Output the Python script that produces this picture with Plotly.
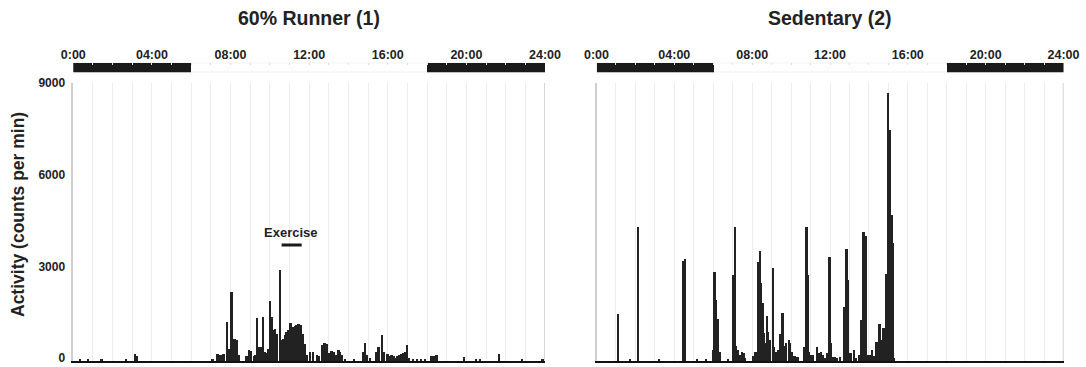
import plotly.graph_objects as go

# ---------------- data ----------------
tick_hours = [0, 4, 8, 12, 16, 20, 24]
tick_labels = ["0:00", "04:00", "08:00", "12:00", "16:00", "20:00", "24:00"]
y_ticks = [0, 3000, 6000, 9000]
night_start = [0, 18]
night_end = [6, 24]
exercise_start = 10.6
exercise_end = 11.62
exercise_level = 3800

runner_hours = [0.34, 0.75, 1.45, 2.7, 3.15, 3.25, 7.1, 7.35, 7.5, 7.65, 7.84, 7.92, 8.06, 8.13,
                8.22, 8.32, 8.43, 8.82, 8.94, 9.04, 9.2, 9.27, 9.36, 9.45, 9.55, 9.67, 9.76, 9.86,
                9.93, 10.01, 10.1, 10.19, 10.29, 10.37, 10.52, 10.6, 10.67, 10.77, 10.87, 10.97,
                11.07, 11.18, 11.28, 11.38, 11.48, 11.58, 11.69, 11.79, 11.89, 12.05, 12.2, 12.4,
                12.5, 12.7, 12.8, 12.9, 13.05, 13.15, 13.25, 13.35, 13.5, 13.6, 13.7, 13.83,
                14.3, 14.75, 14.85, 14.95, 15.1, 15.45, 15.55, 15.73, 15.8, 16.0, 16.1, 16.2,
                16.3, 16.4, 16.5, 16.6, 16.7, 16.8, 16.9, 17.0, 17.1, 17.3, 17.5, 17.7, 17.9,
                18.2, 18.3, 18.4, 18.5, 19.88, 20.5, 20.7, 21.68, 22.85, 23.89]
runner_counts = [60, 60, 40, 40, 220, 150, 60, 220, 200, 220, 1290, 400, 2250, 300,
                 720, 680, 200, 150, 350, 330, 150, 200, 1400, 450, 450, 1430, 300, 250,
                 400, 1950, 1450, 1000, 1050, 900, 2970, 700, 720, 850, 950, 1020,
                 1230, 1100, 1150, 1180, 1200, 1180, 900, 550, 200, 280, 300, 200,
                 180, 520, 580, 560, 250, 320, 300, 200, 360, 300, 200, 60,
                 40, 300, 580, 200, 100, 300, 470, 850, 300, 220, 180, 200,
                 150, 100, 150, 200, 230, 250, 280, 520, 100, 50, 50, 50, 50,
                 150, 170, 170, 200, 130, 40, 40, 230, 50, 60]

sedentary_hours = [1.08, 1.7, 2.09, 3.2, 4.44, 4.53, 5.14, 5.6, 5.95, 6.03, 6.1, 6.23, 6.3, 6.72,
                   7.0, 7.08, 7.15, 7.25, 7.35, 7.45, 7.55, 7.62, 8.05, 8.15, 8.26, 8.36, 8.42,
                   8.5, 8.57, 8.65, 8.72, 8.8, 8.88, 9.03, 9.1, 9.2, 9.3, 9.42, 9.54, 9.62, 9.72,
                   9.85, 9.92, 10.0, 10.15, 10.3, 10.65, 10.77, 10.83, 10.9, 11.0, 11.1, 11.29,
                   11.4, 11.5, 11.6, 11.7, 11.85, 11.94, 12.0, 12.1, 12.2, 12.3, 12.5, 12.71,
                   12.83, 12.88, 12.95, 13.05, 13.2, 13.3, 13.45, 13.57, 13.69, 13.82, 13.9,
                   14.05, 14.12, 14.25, 14.37, 14.51, 14.6, 14.65, 14.73, 14.8, 14.85, 14.94,
                   15.0, 15.07, 15.14, 15.2, 15.25]
sedentary_counts = [1530, 60, 4400, 40, 3280, 3330, 60, 60, 360, 2920, 2000, 1360, 300, 60,
                    2810, 4400, 500, 350, 200, 300, 260, 100, 160, 300, 3250, 3610, 2540,
                    1890, 910, 600, 1470, 960, 700, 3030, 470, 300, 350, 870, 1580, 500, 580,
                    690, 580, 300, 160, 120, 470, 4400, 2810, 300, 200, 200, 460,
                    250, 300, 200, 100, 250, 3390, 580, 140, 140, 100, 140, 1780,
                    3650, 2650, 250, 250, 360, 100, 200, 1340, 4230, 4090, 200,
                    200, 360, 150, 630, 1210, 690, 690, 1070, 1000, 2850, 8780,
                    3410, 7560, 4780, 3860, 100]

panel_titles = ["60% Runner (1)", "Sedentary (2)"]
y_title = "Activity (counts per min)"

# ---------------- layout geometry ----------------
W, H = 1086, 367
def px_x(p):
    return p / W
def px_y(p):
    return (H - p) / H

FONT = "Liberation Sans, Arial, sans-serif"
TXT = "#222222"
BAR = "#222222"

main_dom_y = [px_y(361), px_y(83)]
strip_dom_y = [px_y(72.3), px_y(62.7)]
left_dom_x = [px_x(73.3), px_x(545)]
right_dom_x = [px_x(596.5), px_x(1063.5)]

fig = go.Figure()

for i, (hrs, cnt) in enumerate([(runner_hours, runner_counts), (sedentary_hours, sedentary_counts)]):
    xa = "x" if i == 0 else "x2"
    ya = "y" if i == 0 else "y2"
    fig.add_trace(go.Bar(x=hrs, y=cnt, width=0.12, xaxis=xa, yaxis=ya,
                         marker=dict(color=BAR, line=dict(width=0)),
                         showlegend=False, hoverinfo="x+y"))
    sxa = "x3" if i == 0 else "x4"
    sya = "y3" if i == 0 else "y4"
    mids = [(a + b) / 2 for a, b in zip(night_start, night_end)]
    lens = [b - a for a, b in zip(night_start, night_end)]
    fig.add_trace(go.Bar(x=mids, y=[1] * len(mids), width=lens, base=0, xaxis=sxa, yaxis=sya,
                         marker=dict(color="#1a1a1a", line=dict(width=0)),
                         showlegend=False, hoverinfo="skip"))

main_x = dict(range=[0, 24], showgrid=True, dtick=1, tick0=0, gridcolor="#ececec", gridwidth=1,
              showticklabels=False, ticks="", showline=True, linecolor="#111111", linewidth=2,
              zeroline=False, fixedrange=True, automargin=False)
main_y = dict(range=[0, 9100], showgrid=False, zeroline=False, showline=True, linecolor="#cfcfcf",
              linewidth=1.5, tickvals=y_ticks, ticks="outside", ticklen=4, tickcolor="rgba(0,0,0,0)",
              tickfont=dict(family=FONT, size=12, color=TXT, weight="bold"), domain=main_dom_y,
              automargin=False, ticklabeloverflow="allow", ticklabelshift=-3, fixedrange=True)
strip_x = dict(range=[0, 24], side="top", tickvals=list(range(25)),
               ticktext=[tick_labels[tick_hours.index(h)] if h in tick_hours else "" for h in range(25)],
               ticks="inside", ticklen=2, tickcolor="#dddddd", showgrid=False, zeroline=False,
               showline=False, tickfont=dict(family=FONT, size=12.5, color=TXT, weight="bold"),
               automargin=False, ticklabeloverflow="allow", fixedrange=True)
strip_y = dict(range=[0, 1], visible=False, domain=strip_dom_y, automargin=False, fixedrange=True)

fig.update_layout(
    template="none",
    width=W, height=H, margin=dict(l=0, r=0, t=0, b=0, autoexpand=False),
    paper_bgcolor="white", plot_bgcolor="white", bargap=0, barmode="overlay",
    xaxis=dict(main_x, domain=left_dom_x, anchor="y"),
    yaxis=dict(main_y, anchor="x", showticklabels=True),
    xaxis2=dict(main_x, domain=right_dom_x, anchor="y2"),
    yaxis2=dict(main_y, anchor="x2", showticklabels=False),
    xaxis3=dict(strip_x, domain=left_dom_x, anchor="y3"),
    yaxis3=dict(strip_y, anchor="x3"),
    xaxis4=dict(strip_x, domain=right_dom_x, anchor="y4"),
    yaxis4=dict(strip_y, anchor="x4"),
)

# strip outlines and right borders
for sx, sy, mx in [("x3", "y3", "x"), ("x4", "y4", "x2")]:
    fig.add_shape(type="rect", xref=sx, yref=sy, x0=0, x1=24, y0=0, y1=1,
                  line=dict(color="#dcdcdc", width=1), layer="below")
    fig.add_shape(type="line", xref=mx, yref=f"{'y' if mx == 'x' else 'y2'} domain", x0=24, x1=24,
                  y0=0, y1=1, line=dict(color="#c8c8c8", width=1.5))

# exercise marker
fig.add_shape(type="line", xref="x", yref="y", x0=exercise_start, x1=exercise_end,
              y0=exercise_level, y1=exercise_level, line=dict(color="#1a1a1a", width=3))
fig.add_annotation(x=(exercise_start + exercise_end) / 2 - 0.05, y=exercise_level + 420, xref="x", yref="y",
                   text="Exercise", showarrow=False, yanchor="middle",
                   font=dict(family=FONT, size=13, color=TXT, weight="bold"))

# panel titles
for t, dom in zip(panel_titles, [left_dom_x, right_dom_x]):
    fig.add_annotation(x=(dom[0] + dom[1]) / 2, y=px_y(18), xref="paper", yref="paper",
                       text=t, showarrow=False, xanchor="center", yanchor="middle",
                       font=dict(family=FONT, size=19.5, color=TXT, weight="bold"))

# y-axis title
fig.add_annotation(x=px_x(18), y=px_y(215), xref="paper", yref="paper", text=y_title,
                   textangle=-90, showarrow=False, xanchor="center", yanchor="middle",
                   font=dict(family=FONT, size=17.5, color=TXT, weight="bold"))

fig.write_html("out.html", config={"displayModeBar": False, "staticPlot": False},
               post_script="document.body.style.margin='0';document.body.style.overflow='hidden';")
